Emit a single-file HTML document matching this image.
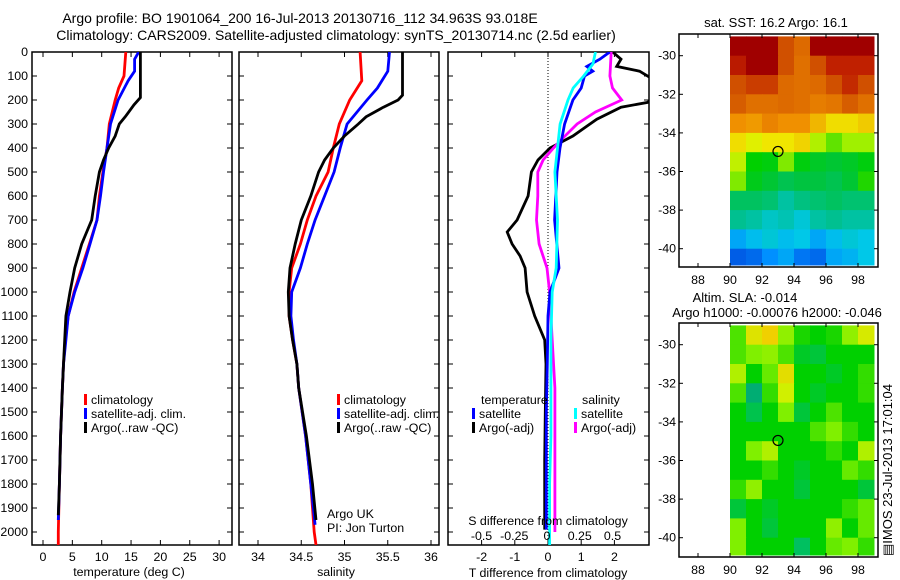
<!DOCTYPE html>
<html><head><meta charset="utf-8"><style>
body{margin:0;background:#fff;}
svg{display:block;font-family:"Liberation Sans",sans-serif;}
text{font-size:12.4px;fill:#000;}
</style></head><body>
<svg id="fig" width="900" height="580" viewBox="0 0 900 580" xmlns="http://www.w3.org/2000/svg">
<defs>
<clipPath id="c1"><rect x="32" y="52" width="200" height="493"/></clipPath>
<clipPath id="c2"><rect x="239" y="52" width="200" height="493"/></clipPath>
<clipPath id="c3"><rect x="448" y="52" width="201" height="493"/></clipPath>
</defs>
<text x="300" y="23" text-anchor="middle" style="font-size:14px">Argo profile: BO 1901064_200 16-Jul-2013 20130716_112 34.963S 93.018E</text>
<text x="336" y="40" text-anchor="middle" style="font-size:14px">Climatology: CARS2009. Satellite-adjusted climatology: synTS_20130714.nc (2.5d earlier)</text>
<g id="g"></g>
</svg>
<script>
// ---------- data ----------
const depthTicks=[0,100,200,300,400,500,600,700,800,900,1000,1100,1200,1300,1400,1500,1600,1700,1800,1900,2000];
const tempTicks=[0,5,10,15,20,25,30];
const salTicks=[34,34.5,35,35.5,36];
const tdTicks=[-2,-1,0,1,2];
const sdTicks=[-0.5,-0.25,0,0.25,0.5];
const sdTickLabels=["-0.5","-0.25","0","0.25","0.5"];

const tClimDepth=[0,100,150,200,300,400,500,600,700,800,900,1000,1100,1200,1300,1400,1600,1800,2000,2054];
const tClim=[14.1,13.8,12.9,12.3,11.3,10.9,10.2,9.6,9.2,7.9,6.6,5.3,4.3,3.8,3.5,3.3,3.0,2.8,2.6,2.6];
const tSatDepth=[0,30,80,120,200,300,400,500,600,700,800,900,1000,1100,1200,1300,1400,1600,1800,1950];
const tSat=[16.3,15.6,15.6,14.5,12.8,11.5,10.9,10.3,9.8,9.2,8.0,6.8,5.4,4.3,3.9,3.5,3.3,3.0,2.8,2.6];
const tArgoDepth=[0,190,220,270,300,350,400,450,500,600,700,800,900,1000,1100,1200,1300,1400,1600,1800,1930];
const tArgo=[16.6,16.6,15.5,14.0,13.0,12.3,11.2,10.3,9.6,8.9,8.3,6.6,5.4,4.6,3.9,3.7,3.5,3.3,3.0,2.8,2.6];

const sClimDepth=[0,120,200,300,400,500,600,700,800,900,1000,1100,1200,1300,1400,1600,1800,2000,2054];
const sClim=[35.18,35.2,35.06,34.94,34.87,34.81,34.67,34.57,34.49,34.39,34.36,34.36,34.4,34.45,34.47,34.55,34.61,34.65,34.67];
const sSatDepth=[0,80,150,200,300,400,500,600,700,800,900,1000,1100,1200,1300,1400,1600,1800,1970];
const sSat=[35.52,35.5,35.38,35.26,35.03,34.95,34.88,34.77,34.66,34.57,34.49,34.39,34.38,34.41,34.45,34.47,34.55,34.61,34.66];
const sArgoDepth=[0,180,200,230,270,300,350,400,450,500,600,700,800,900,1000,1100,1200,1300,1400,1600,1800,1950];
const sArgo=[35.67,35.67,35.62,35.45,35.25,35.16,35.0,34.87,34.77,34.7,34.61,34.5,34.43,34.37,34.35,34.36,34.4,34.45,34.47,34.56,34.63,34.67];

const dTSatDepth=[0,30,60,80,100,150,200,300,400,500,700,900,1000,1100,1300,1500,1700,1900,1990];
const dTSat=[1.86,1.56,1.17,1.35,1.1,1.0,0.75,0.5,0.36,0.27,0.2,0.33,0.06,0.0,-0.02,-0.05,-0.05,-0.05,-0.05];
const dTArgoDepth=[0,30,60,80,150,210,230,280,350,400,450,500,600,700,750,800,850,900,1000,1100,1200,1300,1500,1700,1900,1990];
const dTArgo=[1.95,2.2,2.07,2.76,3.6,3.0,2.2,1.47,0.75,0.06,-0.3,-0.5,-0.6,-0.93,-1.23,-1.08,-0.84,-0.69,-0.63,-0.4,-0.1,-0.06,-0.08,-0.1,-0.1,-0.1];
const dSSatDepth=[0,50,100,150,200,300,400,500,700,900,1000,1200,1400,1600,1800,2000,2054];
const dSSat=[0.37,0.35,0.28,0.2,0.16,0.1,0.08,0.06,0.08,0.07,0.04,0.03,0.03,0.03,0.02,0.02,0.02];
const dSArgoDepth=[0,100,150,200,250,300,370,400,450,500,600,700,800,900,1000,1200,1400,1600,1800,2000];
const dSArgo=[0.49,0.48,0.5,0.57,0.37,0.23,0.1,0.05,-0.03,-0.07,-0.07,-0.08,-0.06,0.0,0.02,0.04,0.06,0.06,0.06,0.06];

const mapLons=[90.5,91.5,92.5,93.5,94.5,95.5,96.5,97.5,98.5];
const mapLats=[-29.5,-30.5,-31.5,-32.5,-33.5,-34.5,-35.5,-36.5,-37.5,-38.5,-39.5,-40.5];
const sstGrid=[
[20,20,20,19,18.6,20,20,20,20],
[19.6,20,20,19,18.5,19,19.5,19.5,19.5],
[19,19.2,19.2,18.6,18.5,18.6,19,19.4,19],
[18.8,18.5,18.5,18.6,18.5,18.3,18.4,18.8,18.5],
[18,17.9,18.2,18,18,17.6,17.2,17.2,17.4],
[17.2,16.9,17.1,17.1,17.3,16.6,16.3,16.5,16.5],
[16.7,16,15.9,16.4,15.9,15.7,15.6,15.7,15.9],
[16.4,15.8,15.6,15.4,15.5,15.5,15.4,15.6,16.1],
[15.3,15.3,15.2,14.9,15.1,15.2,15.3,15.2,15.2],
[15,14.9,14.7,14.8,14.6,14.9,15,14.9,14.9],
[14.2,14.4,14.6,14.4,14.5,14.2,14.4,14.6,14.5],
[13.6,13.7,14,14.2,13.8,13.7,14.2,14.3,14.5]];
const slaGrid=[
[0.03,0.12,0.15,0.06,0.01,0.0,0.01,0.06,0.11],
[0.03,0.05,0.06,0.03,-0.02,-0.03,0,0,0],
[0.08,0,0.04,0.13,0,0,-0.02,0,0.02],
[0.03,-0.08,0.02,0.1,0,-0.02,0,0,0.02],
[0,-0.04,0,0.05,-0.03,0,0.03,0,0],
[0,0,0,0,0,0.03,0.05,0.02,0],
[0,0.05,0.08,0,0,0,0.02,0,0.08],
[0,0,0.02,0,-0.02,0,0,0.04,0.02],
[0.02,0.06,0,0,-0.03,0,0,0,-0.03],
[-0.03,0,-0.02,0,0,0,0,0.02,0.04],
[0.05,0,-0.03,0,0,0,0.06,0,0.04],
[0.05,0,0,0,-0.05,0,0.04,0.05,0.02]];
const mapLonTicks=[88,90,92,94,96,98];
const mapLatTicks=[-30,-32,-34,-36,-38,-40];
const argoLon=93.0, argoLat=-34.96;

// ---------- helpers ----------
const NS="http://www.w3.org/2000/svg";
const root=document.getElementById('g');
function el(tag,attrs,parent){const e=document.createElementNS(NS,tag);for(const k in attrs)e.setAttribute(k,attrs[k]);(parent||root).appendChild(e);return e;}
function txt(x,y,s,anchor,parent){const t=el('text',{x:x,y:y,'text-anchor':anchor||'start'},parent);t.textContent=s;return t;}
const yD=d=>52+d*0.24;
const xT=v=>43+v*5.87;
const xS=v=>258+(v-34)*86.5;
const xdT=v=>548+v*33.2;
const xdS=v=>547+v*131;

function axesBox(x0,x1,name){
  const b=el('rect',{x:x0,y:52,width:x1-x0,height:493,fill:'none',stroke:'#000','stroke-width':1.5});
  
  
  depthTicks.forEach(d=>{el('line',{x1:x0,x2:x0+5,y1:yD(d),y2:yD(d),stroke:'#000'});el('line',{x1:x1,x2:x1-5,y1:yD(d),y2:yD(d),stroke:'#000'});});
}
function xticks(vals,fx,labels,y,top){
  vals.forEach((v,i)=>{const x=fx(v);
    el('line',{x1:x,x2:x,y1:545,y2:540,stroke:'#000'});
    if(top)el('line',{x1:x,x2:x,y1:52,y2:57,stroke:'#000'});
    if(labels){const t=txt(x,y,labels[i],'middle');}
  });
}
function line(depths,vals,fx,color,clip,name){
  const pts=depths.map((d,i)=>fx(vals[i]).toFixed(1)+','+yD(d).toFixed(1)).join(' ');
  const p=el('polyline',{points:pts,fill:'none',stroke:color,'stroke-width':2.8,'clip-path':'url(#'+clip+')','stroke-linejoin':'miter'});
  
  
}
function legendEntry(x,y,color,label){
  const g=el('g',{});
  
  
  el('rect',{x:x,y:y-10,width:3,height:11,fill:color},g);
  txt(x+7,y,label,'start',g);
}

// panel 1 temperature
axesBox(32,232,'temperature-axes');
depthTicks.forEach(d=>{const t=txt(28,yD(d)+4,String(d),'end');});
xticks(tempTicks,xT,tempTicks.map(String),561,true);
const t1=txt(129,576,'temperature (deg C)','middle');
line(tClimDepth,tClim,xT,'#ff0000','c1','temp-climatology-line');
line(tSatDepth,tSat,xT,'#0000ff','c1','temp-satellite-line');
line(tArgoDepth,tArgo,xT,'#000000','c1','temp-argo-line');
legendEntry(84,404,'#ff0000','climatology');
legendEntry(84,418,'#0000ff','satellite-adj. clim.');
legendEntry(84,432,'#000000','Argo(..raw -QC)');

// panel 2 salinity
axesBox(239,439,'salinity-axes');
xticks(salTicks,xS,['34','34.5','35','35.5','36'],561,true);
const t2=txt(336,576,'salinity','middle');
line(sClimDepth,sClim,xS,'#ff0000','c2','sal-climatology-line');
line(sSatDepth,sSat,xS,'#0000ff','c2','sal-satellite-line');
line(sArgoDepth,sArgo,xS,'#000000','c2','sal-argo-line');
legendEntry(337,404,'#ff0000','climatology');
legendEntry(337,418,'#0000ff','satellite-adj. clim.');
legendEntry(337,432,'#000000','Argo(..raw -QC)');
txt(327,518,'Argo UK','start');
txt(327,532,'PI: Jon Turton','start');

// panel 3 differences
axesBox(448,649,'difference-axes');
el('line',{x1:xdT(0),x2:xdT(0),y1:52,y2:545,stroke:'#000','stroke-dasharray':'1,2'});
xticks(tdTicks,xdT,tdTicks.map(String),561,true);
const t3=txt(548,577,'T difference from climatology','middle');
line(dTArgoDepth,dTArgo,xdT,'#000000','c3','tdiff-argo-line');
line(dSArgoDepth,dSArgo,xdS,'#ff00ff','c3','sdiff-argo-line');
line(dTSatDepth,dTSat,xdT,'#0000ff','c3','tdiff-satellite-line');
line(dSSatDepth,dSSat,xdS,'#00ffff','c3','sdiff-satellite-line');
sdTicks.forEach((v,i)=>{const t=txt(xdS(v),540,sdTickLabels[i],'middle');});
const t4=txt(548,525,'S difference from climatology','middle');
txt(481,404,'temperature','start');
txt(582,404,'salinity','start');
legendEntry(472,418,'#0000ff','satellite');
legendEntry(472,432,'#000000','Argo(-adj)');
legendEntry(574,418,'#00ffff','satellite');
legendEntry(574,432,'#ff00ff','Argo(-adj)');

// maps
const sstStops=[[13.5,[0,80,224]],[14,[0,144,255]],[14.5,[0,200,232]],[15,[0,192,144]],[15.5,[0,196,64]],[16,[0,208,0]],[16.5,[160,240,0]],[17,[240,240,0]],[17.5,[240,192,0]],[18,[240,144,0]],[18.5,[224,112,0]],[19,[208,80,0]],[19.5,[192,32,0]],[20,[160,0,0]]];
const slaStops=[[-0.1,[0,160,128]],[-0.05,[0,192,96]],[0,[0,208,0]],[0.05,[128,240,0]],[0.1,[208,240,0]],[0.15,[240,208,0]]];
function cmap(stops,v){
  if(v<=stops[0][0])return 'rgb('+stops[0][1]+')';
  for(let i=1;i<stops.length;i++){if(v<=stops[i][0]){const a=stops[i-1],b=stops[i],t=(v-a[0])/(b[0]-a[0]);
    return 'rgb('+a[1].map((c,k)=>Math.round(c+(b[1][k]-c)*t)).join(',')+')';}}
  return 'rgb('+stops[stops.length-1][1]+')';
}
function drawMap(y0,y1,grid,stops,name){
  const lat30=y0+21.7, pxLat=19.3;
  const xL=lon=>730+(lon-90)*16, yL=lat=>lat30+(-30-lat)*pxLat;
  const g=el('g',{});
  
  
  grid.forEach((row,r)=>row.forEach((v,c)=>{
    const x0=Math.max(xL(mapLons[c]-0.5),729), x1=Math.min(xL(mapLons[c]+0.5),875);
    const ya=Math.max(yL(mapLats[r]+0.5),y0), yb=Math.min(yL(mapLats[r]-0.5),y1-2);
    const cell=el('rect',{x:x0,y:ya,width:x1-x0+0.5,height:yb-ya+0.5,fill:cmap(stops,v)},g);
    
    
  }));
  const b=el('rect',{x:679,y:y0,width:199,height:y1-y0,fill:'none',stroke:'#000','stroke-width':1.5});
  
  
  mapLonTicks.forEach(l=>{const x=xL(l);el('line',{x1:x,x2:x,y1:y1,y2:y1-4,stroke:'#000'});el('line',{x1:x,x2:x,y1:y0,y2:y0+4,stroke:'#000'});
    const t=txt(x,y1+17,String(l),'middle');});
  mapLatTicks.forEach(l=>{const y=yL(l);el('line',{x1:679,x2:683,y1:y,y2:y,stroke:'#000'});el('line',{x1:878,x2:874,y1:y,y2:y,stroke:'#000'});
    const t=txt(676,y+4,String(l),'end');});
  const m=el('circle',{cx:xL(argoLon),cy:yL(argoLat),r:5,fill:'none',stroke:'#000','stroke-width':1.2});
  
  
}
drawMap(34,267,sstGrid,sstStops,'sst-map');
drawMap(323,557,slaGrid,slaStops,'sla-map');
const mt1=txt(776,27,'sat. SST: 16.2 Argo: 16.1','middle');mt1.setAttribute('style','font-size:13px');
const mt2=txt(745,302,'Altim. SLA: -0.014','middle');mt2.setAttribute('style','font-size:13px');
const mt3=txt(777,317,'Argo h1000: -0.00076 h2000: -0.046','middle');mt3.setAttribute('style','font-size:13px');
const st=txt(0,0,'\u25A4IMOS 23-Jul-2013 17:01:04','middle');
st.setAttribute('transform','translate(892,470) rotate(-90)');
st.setAttribute('style','font-size:13px');


</script>
</body></html>
